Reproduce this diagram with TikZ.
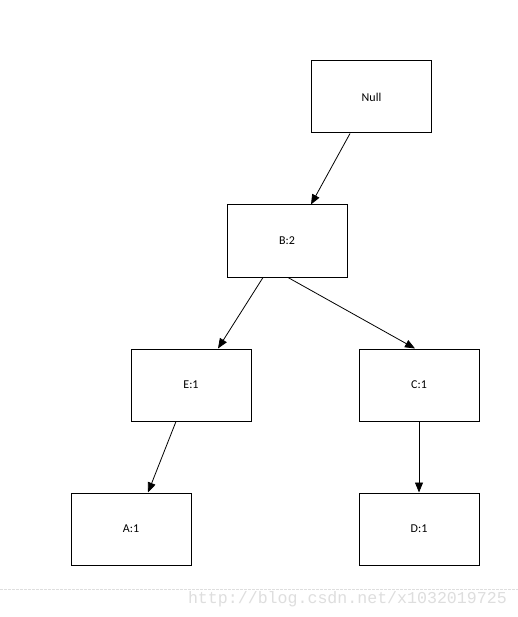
\documentclass[tikz,border=0pt]{standalone}
\usepackage{fontspec}
\setmainfont{Carlito}
\newfontfamily\wmfont{Liberation Mono}
\usetikzlibrary{arrows.meta}
\definecolor{wmgray}{RGB}{222,222,222}
\tikzset{
  box/.style={draw, line width=1pt, minimum width=120pt, minimum height=72pt, inner sep=0pt, font=\fontsize{12}{14}\selectfont},
  link/.style={line width=0.8pt, -{Triangle[length=10pt,width=8pt]}}
}
\begin{document}
\begin{tikzpicture}[x=1pt,y=-1pt]
\useasboundingbox[fill=white] (0,0) rectangle (518,617);
\node[box] (null) at (371.5,97) {Null};
\node[box] (b) at (287,241) {B:2};
\node[box] (e) at (191,385) {E:1};
\node[box] (c) at (419,385) {C:1};
\node[box] (a) at (131,529) {A:1};
\node[box] (d) at (419,529) {D:1};
\draw[link] ([xshift=-21.5pt]null.south) -- ([xshift=24pt]b.north);
\draw[link] ([xshift=-24pt]b.south) -- ([xshift=27pt]e.north);
\draw[link] ([xshift=1pt]b.south) -- ([xshift=-4pt]c.north);
\draw[link] ([xshift=-15pt]e.south) -- ([xshift=17pt]a.north);
\draw[link] (c.south) -- (d.north);
\coordinate (wl) at (0,589);
\coordinate (wr) at (518,589);
\draw[wmgray, line width=0.6pt, dash pattern=on 3pt off 1pt] (wl) -- (wr);
\node[anchor=base east, inner sep=0pt, text=wmgray, font=\wmfont\fontsize{16.6}{18}\selectfont] (wm) at (507,603) {http://blog.csdn.net/x1032019725};
\end{tikzpicture}
\end{document}
